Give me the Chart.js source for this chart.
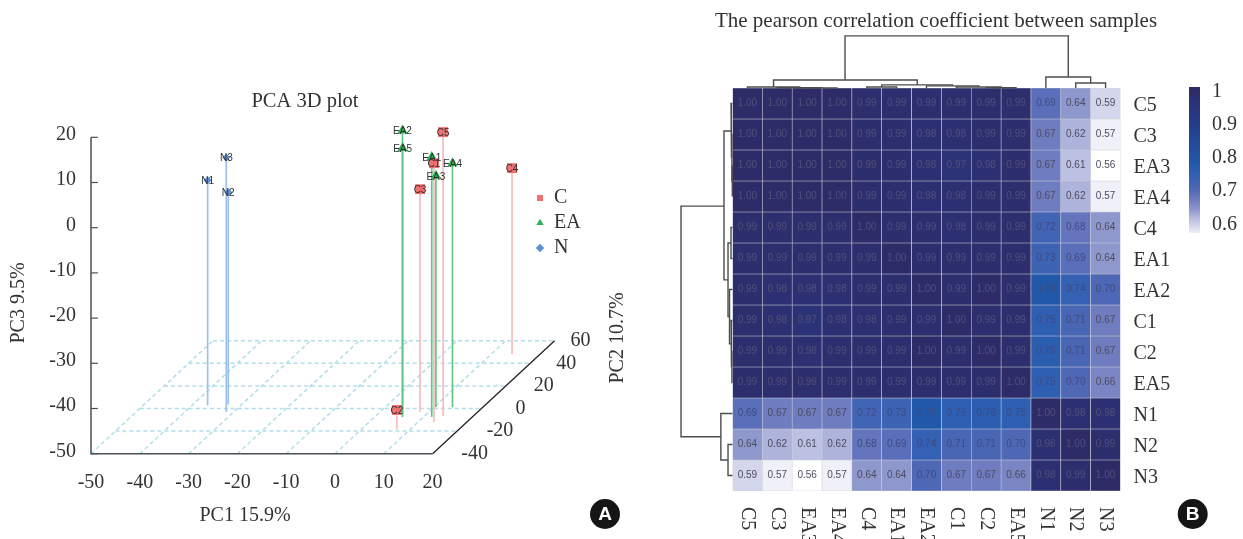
<!DOCTYPE html>
<html>
<head>
<meta charset="utf-8">
<title>PCA and correlation</title>
<script src="https://cdn.jsdelivr.net/npm/chart.js@4/dist/chart.umd.min.js"></script>
<style>
    html, body { margin: 0; padding: 0; background: #fff; overflow: hidden; }
    canvas { position: absolute; left: 0; top: 0; }
</style>
</head>
<body>
<canvas id="pcaChart" width="1243" height="539"></canvas>
<canvas id="legendChart" width="120" height="90" style="left:531px;top:183px"></canvas>
<canvas id="heatChart" width="1243" height="539"></canvas>
<canvas id="scaleChart" width="1243" height="539"></canvas>
<script>
// PCA samples
const sampleNames = ["N1", "N3", "N2", "EA2", "EA5", "EA1", "EA4", "EA3", "C5", "C1", "C3", "C4", "C2"];
const sampleGroups = ["N", "N", "N", "EA", "EA", "EA", "EA", "EA", "C", "C", "C", "C", "C"];
const pc1Values = [-36.8, -31.5, -32.8, 5.7, 4.9, 11.7, 13.8, 10.4, 13.8, 13.3, 8.2, 14.2, 7.3];
const pc2Values = [2.8, -3.1, 3.7, -7.5, -4.2, -7.5, 1.1, 1.1, -6.6, -12.1, -3.1, 48.3, -18.5];
const pc3Values = [-0.2, 6.3, -3.1, 13.4, 8.7, 7.5, 4.0, 1.2, 12.8, 7.3, -0.7, -8.9, -45.7];

const pc1Ticks = [-50, -40, -30, -20, -10, 0, 10, 20];
const pc3Ticks = [-50, -40, -30, -20, -10, 0, 10, 20];
const pc2Ticks = [-40, -20, 0, 20, 40, 60];
const pc2LabelShift = [42, 43, 39, 38, 36, 26];

// Heatmap
const sampleOrder = ["C5", "C3", "EA3", "EA4", "C4", "EA1", "EA2", "C1", "C2", "EA5", "N1", "N2", "N3"];
const rowC5 = [1.00, 1.00, 1.00, 1.00, 0.99, 0.99, 0.99, 0.99, 0.99, 0.99, 0.69, 0.64, 0.59];
const rowC3 = [1.00, 1.00, 1.00, 1.00, 0.99, 0.99, 0.98, 0.98, 0.99, 0.99, 0.67, 0.62, 0.57];
const rowEA3 = [1.00, 1.00, 1.00, 1.00, 0.99, 0.99, 0.98, 0.97, 0.98, 0.99, 0.67, 0.61, 0.56];
const rowEA4 = [1.00, 1.00, 1.00, 1.00, 0.99, 0.99, 0.98, 0.98, 0.99, 0.99, 0.67, 0.62, 0.57];
const rowC4 = [0.99, 0.99, 0.99, 0.99, 1.00, 0.99, 0.99, 0.98, 0.99, 0.99, 0.72, 0.68, 0.64];
const rowEA1 = [0.99, 0.99, 0.99, 0.99, 0.99, 1.00, 0.99, 0.99, 0.99, 0.99, 0.73, 0.69, 0.64];
const rowEA2 = [0.99, 0.98, 0.98, 0.98, 0.99, 0.99, 1.00, 0.99, 1.00, 0.99, 0.78, 0.74, 0.70];
const rowC1 = [0.99, 0.98, 0.97, 0.98, 0.98, 0.99, 0.99, 1.00, 0.99, 0.99, 0.75, 0.71, 0.67];
const rowC2 = [0.99, 0.99, 0.98, 0.99, 0.99, 0.99, 1.00, 0.99, 1.00, 0.99, 0.76, 0.71, 0.67];
const rowEA5 = [0.99, 0.99, 0.99, 0.99, 0.99, 0.99, 0.99, 0.99, 0.99, 1.00, 0.75, 0.70, 0.66];
const rowN1 = [0.69, 0.67, 0.67, 0.67, 0.72, 0.73, 0.78, 0.75, 0.76, 0.75, 1.00, 0.98, 0.98];
const rowN2 = [0.64, 0.62, 0.61, 0.62, 0.68, 0.69, 0.74, 0.71, 0.71, 0.70, 0.98, 1.00, 0.99];
const rowN3 = [0.59, 0.57, 0.56, 0.57, 0.64, 0.64, 0.70, 0.67, 0.67, 0.66, 0.98, 0.99, 1.00];
const heatRows = [rowC5, rowC3, rowEA3, rowEA4, rowC4, rowEA1, rowEA2, rowC1, rowC2, rowEA5, rowN1, rowN2, rowN3];

// Dendrograms: [pos0, height0, pos1, height1, mergeHeight]
const colMerges = [
    [3.27, 0.26, 10.75, 0.355, 1.68], [0.875, 0.03, 5.69, 0.1, 0.26], [0, 0, 1.75, 0.01, 0.03],
    [1, 0, 2.5, 0.005, 0.01], [2, 0, 3, 0, 0.005], [4.5, 0.03, 6.875, 0.07, 0.1], [4, 0, 5, 0, 0.03],
    [6, 0, 7.75, 0.03, 0.07], [7, 0, 8.5, 0.01, 0.03], [8, 0, 9, 0, 0.01], [10, 0, 11.5, 0.16, 0.355], [11, 0, 12, 0, 0.16]
];
const rowMerges = [
    [3.31, 0.285, 10.75, 0.39, 1.725], [0.885, 0.05, 5.69, 0.15, 0.285], [0, 0, 1.75, 0.02, 0.05],
    [1, 0, 2.5, 0.01, 0.02], [2, 0, 3, 0, 0.01], [4.5, 0.05, 6.875, 0.1, 0.15], [4, 0, 5, 0, 0.05],
    [6, 0, 7.75, 0.05, 0.1], [7, 0, 8.5, 0.02, 0.05], [8, 0, 9, 0, 0.02], [10, 0, 11.5, 0.15, 0.39], [11, 0, 12, 0, 0.15]
];

// Colour scale
const colorStopValues = [0.56, 0.57, 0.59, 0.61, 0.64, 0.67, 0.70, 0.75, 0.78, 0.85, 0.90, 0.97, 1.00];
const colorStopRgb = [[255, 255, 255], [240, 240, 248], [212, 214, 236], [188, 192, 226], [143, 152, 205], [111, 124, 192], [79, 104, 182], [47, 95, 179], [34, 88, 170], [34, 74, 154], [36, 60, 140], [44, 50, 118], [45, 44, 105]];
const colorbarTicks = [1, 0.9, 0.8, 0.7, 0.6];

const SERIF = "'Liberation Serif', serif";
const SANS = "'Liberation Sans', sans-serif";
const groupColors = { C: "#f2706f", EA: "#2fb350", N: "#5b8fd0" };
const stemColors = { C: "#f9bcbb", EA: "#62c786", N: "#9cc0ea" };
const groupMarkers = { C: "rect", EA: "triangle", N: "rectRot" };
const markerSizes = { C: 7, EA: 6, N: 4 };

Chart.defaults.font.family = SERIF;
Chart.defaults.animation = false;
Chart.defaults.responsive = false;
Chart.defaults.plugins.legend.display = false;
Chart.defaults.plugins.tooltip.enabled = false;

function project(pc1, pc2, pc3) {
    const depth = (pc2 + 40) * 0.25;
    return { x: pc1 + depth, y: pc3 + depth };
}

function lineSet(points, color, width, dash) {
    return {
        type: "scatter", data: points, showLine: true, pointRadius: 0, borderColor: color,
        borderWidth: width, borderDash: dash || [], clip: false, tension: 0
    };
}

function drawText(ctx, text, x, y, font, color, rotation, align) {
    ctx.save();
    ctx.translate(x, y);
    ctx.rotate(rotation || 0);
    ctx.font = font;
    ctx.fillStyle = color;
    ctx.textAlign = align || "center";
    ctx.textBaseline = "middle";
    ctx.fillText(text, 0, 0);
    ctx.restore();
}

function drawBadge(ctx, letter, x, y) {
    ctx.save();
    ctx.fillStyle = "#151515";
    ctx.beginPath();
    ctx.arc(x, y, 15, 0, Math.PI * 2);
    ctx.fill();
    ctx.restore();
    drawText(ctx, letter, x, y + 1, "bold 19px " + SANS, "#fff");
}

// ---------- Panel A ----------
const pcaSets = [];
["C", "EA", "N"].forEach((group) => {
    const points = [];
    sampleNames.forEach((name, i) => {
        if (sampleGroups[i] === group) points.push(project(pc1Values[i], pc2Values[i], pc3Values[i]));
    });
    pcaSets.push({
        type: "scatter", label: group, data: points, pointStyle: groupMarkers[group],
        pointRadius: markerSizes[group], backgroundColor: groupColors[group], borderWidth: 0, clip: false
    });
});
sampleNames.forEach((name, i) => {
    const top = project(pc1Values[i], pc2Values[i], pc3Values[i]);
    const floor = project(pc1Values[i], pc2Values[i], -50);
    pcaSets.push(lineSet([floor, top], stemColors[sampleGroups[i]], 1.7));
});
// axes of the box
pcaSets.push(lineSet([{ x: -50, y: 20 }, { x: -50, y: -50 }, { x: 20, y: -50 }], "#4a4f55", 1.5));
pcaSets.push(lineSet([project(20, -40, -50), project(20, 60, -50)], "#222", 1.3));
pc3Ticks.forEach((v) => pcaSets.push(lineSet([{ x: -50, y: v }, { x: -48.6, y: v }], "#4a4f55", 1.2)));
// floor grid
pc2Ticks.slice(1).forEach((v) => pcaSets.push(lineSet([project(-50, v, -50), project(20, v, -50)], "#b2deea", 1.5, [4, 3])));
pc1Ticks.slice(0, -1).forEach((v) => pcaSets.push(lineSet([project(v, -40, -50), project(v, 60, -50)], "#b2deea", 1.5, [4, 3])));

const pcaTextPlugin = {
    id: "pcaText",
    afterDraw(chart) {
        const ctx = chart.ctx;
        const sx = chart.scales.x, sy = chart.scales.y;
        sampleNames.forEach((name, i) => {
            const p = project(pc1Values[i], pc2Values[i], pc3Values[i]);
            drawText(ctx, name, sx.getPixelForValue(p.x), sy.getPixelForValue(p.y) + 1, "10px " + SANS, "#2f2f33");
        });
        pc2Ticks.forEach((v, i) => {
            const p = project(20, v, -50);
            drawText(ctx, String(v), sx.getPixelForValue(p.x) + pc2LabelShift[i], sy.getPixelForValue(p.y), "20px " + SERIF, "#333");
        });
        drawText(ctx, "PCA 3D plot", 305, 102, "20.5px " + SERIF, "#333");
        drawText(ctx, "PC1 15.9%", 245, 516, "20px " + SERIF, "#333");
        drawText(ctx, "PC3 9.5%", 19, 303, "20px " + SERIF, "#333", -Math.PI / 2);
        drawText(ctx, "PC2 10.7%", 618, 338, "20px " + SERIF, "#333", -Math.PI / 2);
        drawBadge(ctx, "A", 605, 514);
    }
};

new Chart(document.getElementById("pcaChart"), {
    type: "scatter",
    data: { datasets: pcaSets },
    plugins: [pcaTextPlugin],
    options: {
        layout: { padding: { left: 31, right: 664, top: 92.1, bottom: 35.3 } },
        scales: {
            x: {
                type: "linear", min: -50, max: 50, border: { display: false }, grid: { display: false, drawTicks: false },
                afterBuildTicks: (s) => { s.ticks = pc1Ticks.map((v) => ({ value: v })); },
                afterFit: (s) => { s.height = 50; },
                ticks: { padding: 17, maxRotation: 0, autoSkip: false, color: "#333", font: { size: 20 }, callback: (v) => String(v) }
            },
            y: {
                type: "linear", min: -50, max: 30, border: { display: false }, grid: { display: false, drawTicks: false },
                // labels sit a little above their tick marks in the original
                afterBuildTicks: (s) => { s.ticks = pc3Ticks.map((v) => ({ value: v + 0.5 })); },
                afterFit: (s) => { s.width = 60; },
                ticks: { padding: 15, autoSkip: false, color: "#333", font: { size: 20 }, callback: (v) => String(v - 0.5) }
            }
        }
    }
});

// legend of panel A
new Chart(document.getElementById("legendChart"), {
    type: "scatter",
    data: {
        datasets: ["C", "EA", "N"].map((group) => ({
            label: group, data: [], pointStyle: groupMarkers[group], backgroundColor: groupColors[group], borderWidth: 0
        }))
    },
    options: {
        scales: { x: { display: false }, y: { display: false } },
        plugins: {
            legend: {
                display: true, position: "left", align: "start",
                labels: { usePointStyle: true, boxWidth: 8, boxHeight: 6, padding: 5, color: "#333", font: { size: 20 } }
            }
        }
    }
});

// ---------- Panel B ----------
function heatColor(v) {
    let i = 0;
    while (i < colorStopValues.length - 2 && v > colorStopValues[i + 1]) i++;
    const t = (v - colorStopValues[i]) / (colorStopValues[i + 1] - colorStopValues[i]);
    const c = colorStopRgb[i].map((a, k) => Math.round(a + (colorStopRgb[i + 1][k] - a) * t));
    return `rgb(${c[0]},${c[1]},${c[2]})`;
}

function valueColor(v) {
    if (v >= 0.9) return "#50507a";
    if (v >= 0.68) return "#3f4a80";
    return "#4c4c5e";
}

const heatSets = heatRows.map((row, r) => ({
    type: "bar",
    data: row.map((v, c) => ({ x: c, y: [r - 0.5, r + 0.5] })),
    backgroundColor: row.map(heatColor),
    borderColor: "#cfcfda",
    borderWidth: 0.6,
    borderSkipped: false,
    barPercentage: 1,
    categoryPercentage: 1,
    grouped: false,
    order: 2
}));
colMerges.forEach((m) => {
    heatSets.push(Object.assign(lineSet([
        { x: m[0], y: -0.5 - m[1] }, { x: m[0], y: -0.5 - m[4] }, { x: m[2], y: -0.5 - m[4] }, { x: m[2], y: -0.5 - m[3] }
    ], "#4d4d4f", 1.4), { order: 1 }));
});
rowMerges.forEach((m) => {
    heatSets.push(Object.assign(lineSet([
        { x: -0.5 - m[1], y: m[0] }, { x: -0.5 - m[4], y: m[0] }, { x: -0.5 - m[4], y: m[2] }, { x: -0.5 - m[3], y: m[2] }
    ], "#4d4d4f", 1.4), { order: 1 }));
});

const heatTextPlugin = {
    id: "heatText",
    afterDraw(chart) {
        const ctx = chart.ctx;
        const sx = chart.scales.x, sy = chart.scales.y;
        heatRows.forEach((row, r) => {
            row.forEach((v, c) => {
                drawText(ctx, v.toFixed(2), sx.getPixelForValue(c), sy.getPixelForValue(r), "10px " + SANS, valueColor(v));
            });
        });
        sampleOrder.forEach((name, c) => {
            drawText(ctx, name, sx.getPixelForValue(c), 507, "20px " + SERIF, "#333", Math.PI / 2, "left");
        });
        drawText(ctx, "The pearson correlation coefficient between samples", 936, 21, "21px " + SERIF, "#333");
        drawBadge(ctx, "B", 1192.7, 514);
    }
};

new Chart(document.getElementById("heatChart"), {
    type: "bar",
    data: { datasets: heatSets },
    plugins: [heatTextPlugin],
    options: {
        layout: { padding: { left: 732.5, right: 62.5, top: 88, bottom: 48 } },
        scales: {
            x: {
                type: "linear", min: -0.5, max: 12.5, offset: false, border: { display: false }, grid: { display: false, drawTicks: false },
                ticks: { display: false }, afterFit: (s) => { s.height = 0; }
            },
            y: {
                type: "linear", position: "right", min: -0.5, max: 12.5, reverse: true,
                border: { display: false }, grid: { display: false, drawTicks: false },
                afterBuildTicks: (s) => { s.ticks = sampleOrder.map((name, i) => ({ value: i + 0.06 })); },
                afterFit: (s) => { s.width = 60; },
                ticks: { padding: 13, autoSkip: false, color: "#333", font: { size: 20 }, callback: (v) => sampleOrder[Math.round(v)] }
            }
        }
    }
});

// colour bar, a single floating bar with a gradient fill
new Chart(document.getElementById("scaleChart"), {
    type: "bar",
    data: {
        labels: ["r"],
        datasets: [{
            data: [[0.57, 1.01]],
            barPercentage: 1,
            categoryPercentage: 1,
            borderWidth: 0,
            backgroundColor: (context) => {
                const area = context.chart.chartArea;
                const scale = context.chart.scales.y;
                if (!area) return "#fff";
                const gradient = context.chart.ctx.createLinearGradient(0, area.bottom, 0, area.top);
                colorStopValues.forEach((v) => {
                    if (v >= 0.57) gradient.addColorStop((scale.getPixelForValue(v) - area.bottom) / (area.top - area.bottom), heatColor(v));
                });
                return gradient;
            }
        }]
    },
    options: {
        layout: { padding: { left: 1189, right: 3, top: 87, bottom: 306 } },
        scales: {
            x: { display: false },
            y: {
                type: "linear", position: "right", min: 0.57, max: 1.01, border: { display: false }, grid: { display: false, drawTicks: false },
                afterBuildTicks: (s) => { s.ticks = colorbarTicks.map((v) => ({ value: v - 0.004 })); },
                afterFit: (s) => { s.width = 40; },
                ticks: { padding: 12, autoSkip: false, color: "#333", font: { size: 20 }, callback: (v) => String(Number((v + 0.004).toFixed(1))) }
            }
        }
    }
});
</script>
</body>
</html>
